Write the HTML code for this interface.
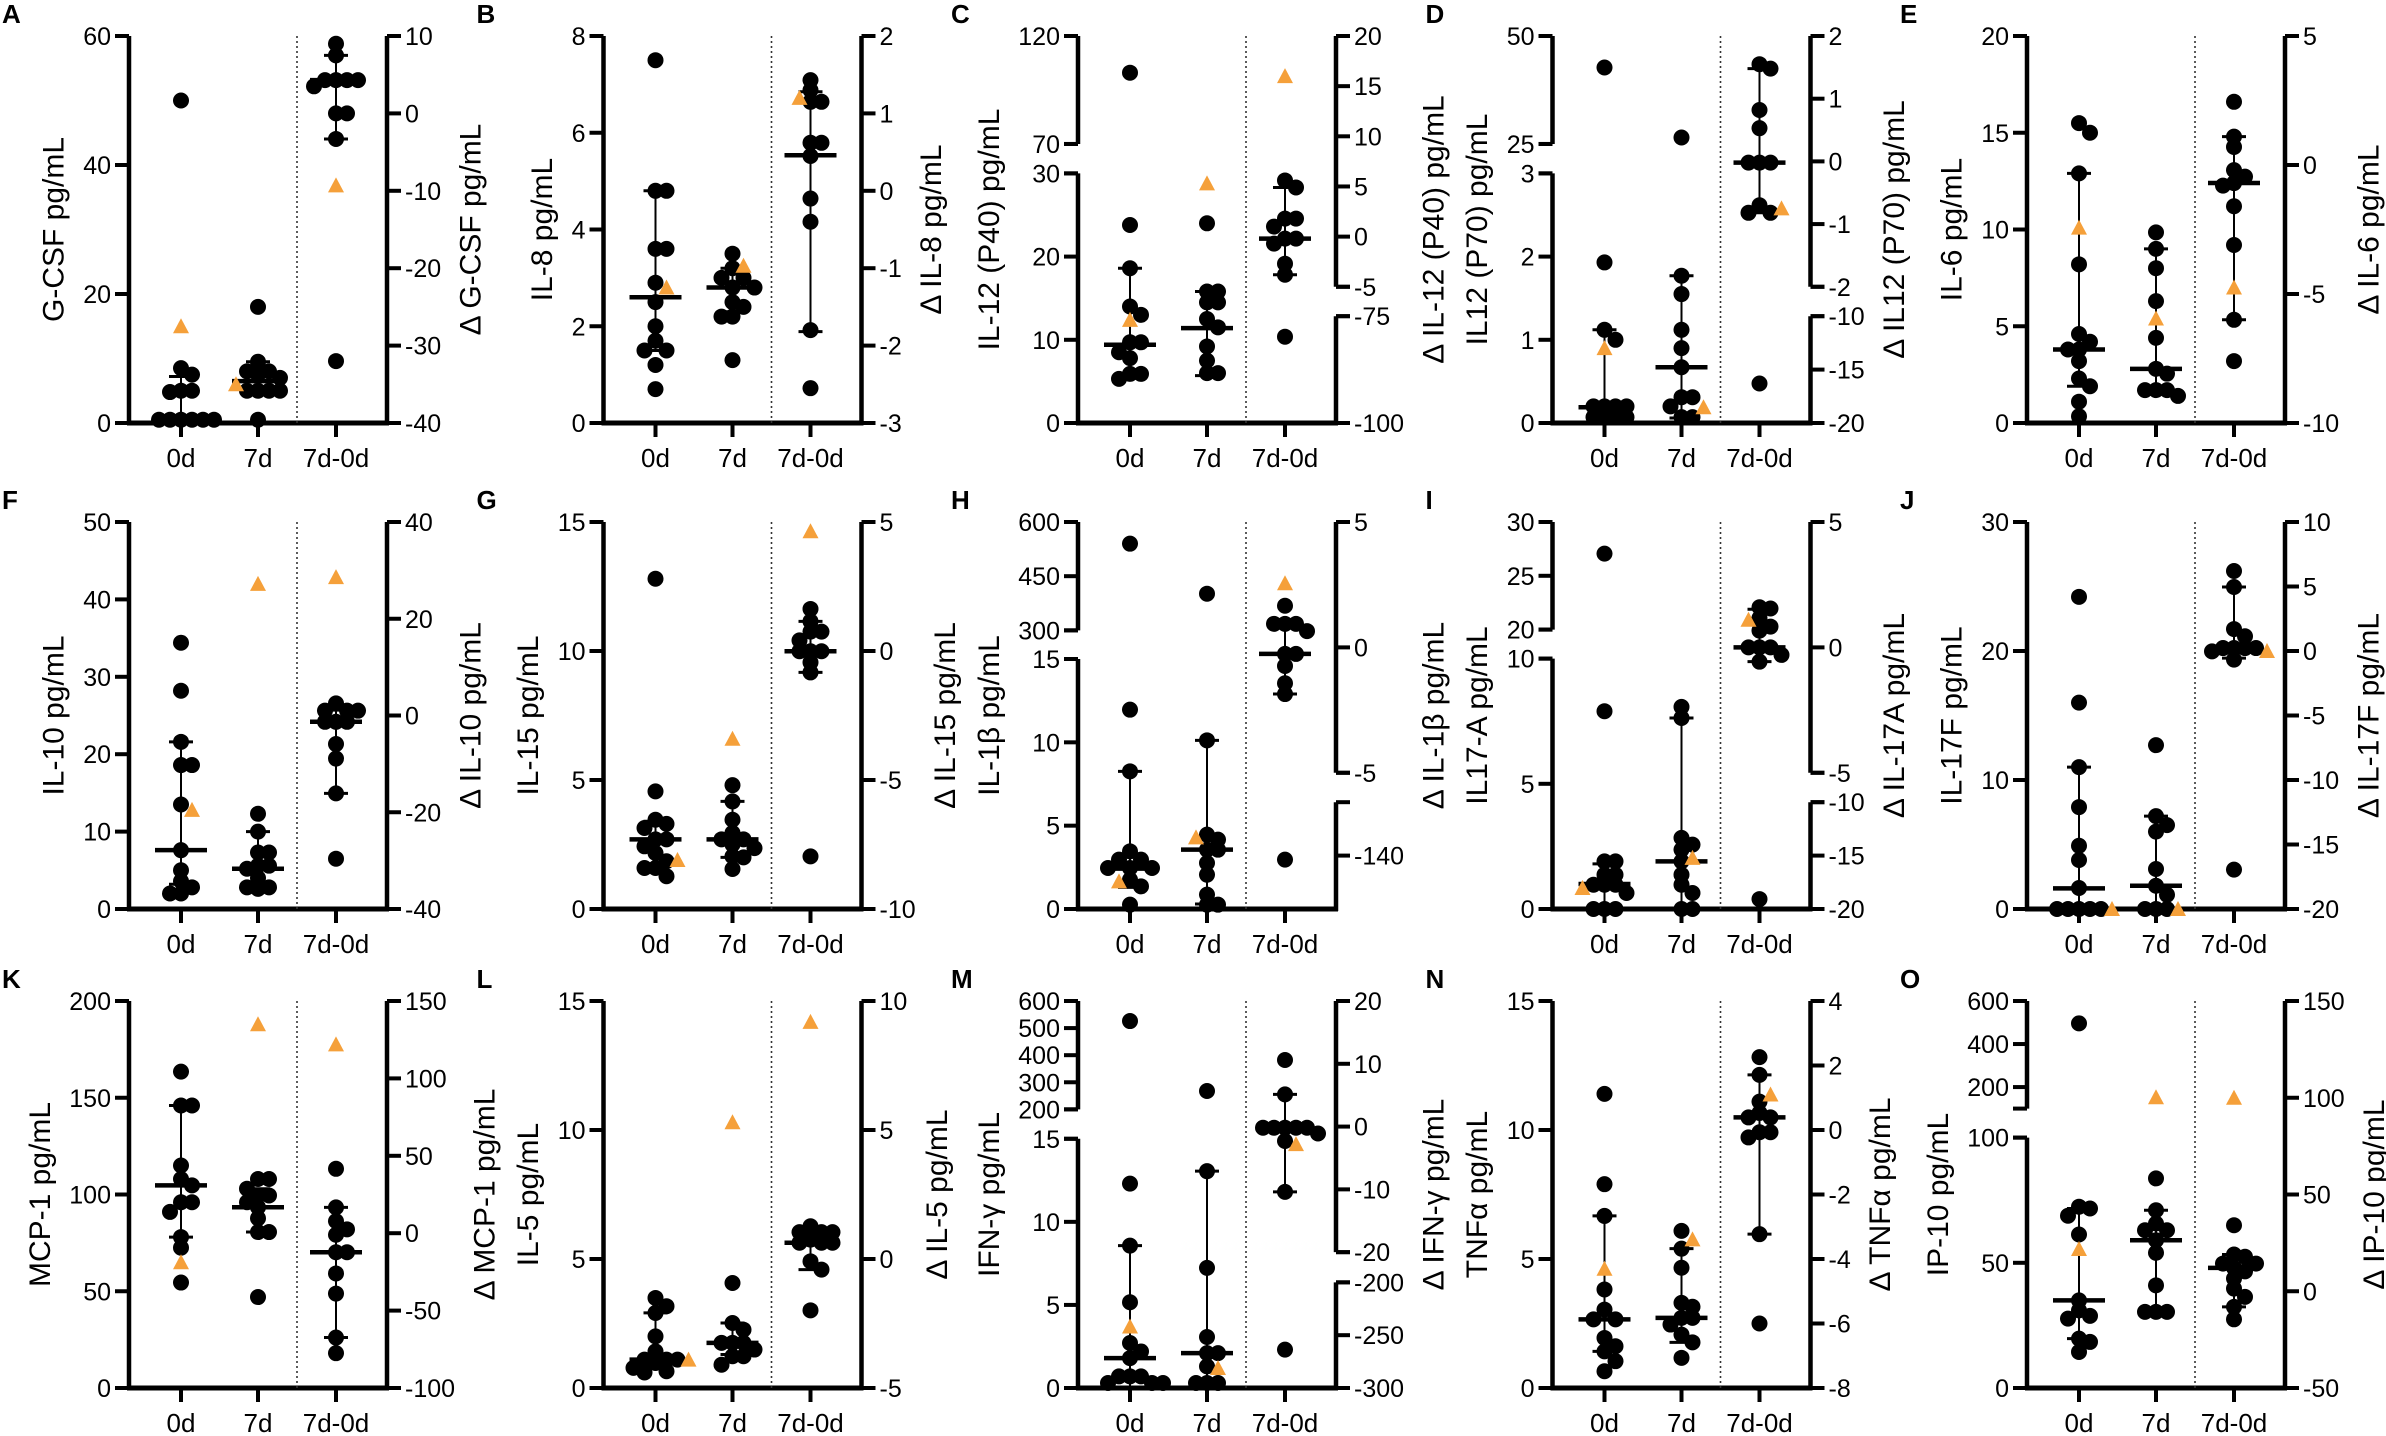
<!DOCTYPE html>
<html><head><meta charset="utf-8"><style>
html,body{margin:0;padding:0;background:#fff;}
svg{display:block;font-family:"Liberation Sans",Arial,sans-serif;}
</style></head><body>
<svg id="fig" xmlns="http://www.w3.org/2000/svg" width="2386" height="1436" viewBox="0 0 2386 1436"></svg>
<script>
// ---- data (per panel: 0d, 7d, 7d-0d values; triangles; median/hi/lo) ----
const cats = ["0d","7d","7d-0d"];
const A_0d=[50,8.5,7.5,5,5,4.8,0.5,0.5,0.5,0.5,0.5,0.5]; const A_7d=[18,9.5,8,8,7.5,7,5,5,5,5,0.5]; const A_diff=[9,7.5,4.3,4.3,4.3,4.3,3.5,0,0,-3.3,-32];
const A_tri=[15,6,-9.3]; const A_med=[0.5,6.5,4.3]; const A_hi=[7.2,9.5,7.5]; const A_lo=[0,5,-3.3];
const B_0d=[7.5,4.8,4.8,3.6,3.6,2.9,2.5,2.0,1.7,1.5,1.5,1.2,0.7]; const B_7d=[3.5,3.2,3.0,3.0,2.8,2.8,2.5,2.4,2.2,2.2,1.3]; const B_diff=[1.43,1.3,1.15,1.15,0.62,0.62,0.45,-0.1,-0.4,-1.8,-2.55];
const B_tri=[2.8,3.25,1.2]; const B_med=[2.6,2.8,0.46]; const B_hi=[4.8,3.2,1.28]; const B_lo=[1.5,2.3,-1.82];
const C_0d=[103,23.8,18.6,14,13,9.7,9.7,8.5,7.8,5.9,5.9,5.3]; const C_7d=[24,15.8,15.8,14.5,14.5,12.5,11.5,9.2,7.5,6.0,6.0]; const C_diff=[5.6,4.9,1.8,1.8,1.0,-0.2,-0.2,-0.7,-2.7,-3.8,-79.8];
const C_tri=[12.4,28.8,16]; const C_med=[9.4,11.4,-0.2]; const C_hi=[18.6,15.8,4.9]; const C_lo=[5.8,5.7,-3.8];
const D_0d=[42.7,1.93,1.12,1.0,0.2,0.2,0.2,0.2,0.07,0.07,0.07,0.07]; const D_7d=[26.5,1.77,1.55,1.12,0.9,0.67,0.31,0.31,0.2,0.07,0.07]; const D_diff=[1.55,1.48,0.82,0.53,-0.02,-0.02,-0.02,-0.7,-0.82,-0.82,-16.3];
const D_tri=[0.9,0.19,-0.75]; const D_med=[0.19,0.67,-0.02]; const D_hi=[1.12,1.77,1.48]; const D_lo=[0.05,0.06,-0.82];
const E_0d=[15.5,15,12.9,8.2,4.6,4.2,3.8,3.8,3.2,2.3,1.9,1.1,0.35]; const E_7d=[9.85,9.0,8.0,6.3,4.4,2.8,2.55,1.7,1.7,1.4,1.7]; const E_diff=[2.45,1.1,0.7,-0.2,-0.45,-0.7,-0.8,-1.6,-3.1,-6.0,-7.6];
const E_tri=[10.1,5.4,-4.75]; const E_med=[3.8,2.8,-0.7]; const E_hi=[12.9,9.0,1.1]; const E_lo=[1.9,1.5,-6.0];
const F_0d=[34.4,28.2,21.6,18.6,18.6,13.5,7.6,5,3.6,2.8,2,2]; const F_7d=[12.3,10,7.3,7.3,5.6,5.6,5.2,4,2.8,2.8,2.6]; const F_diff=[2.5,1.0,1.0,1.0,-1.3,-1.3,-1.3,-5.9,-8.9,-16.1,-29.6];
const F_tri=[12.8,42,28.6]; const F_med=[7.6,5.2,-1.3]; const F_hi=[21.6,10,1.1]; const F_lo=[3.2,2.9,-16.1];
const G_0d=[12.8,4.56,3.46,3.3,3.14,2.7,2.7,2.43,2.17,1.85,1.59,1.59,1.27]; const G_7d=[4.8,4.17,3.46,2.95,2.7,2.7,2.5,2.36,2.04,2.0,1.55]; const G_diff=[1.63,1.15,0.75,0.75,0.41,-0.01,-0.01,-0.01,-0.44,-0.83,-7.96];
const G_tri=[1.9,6.6,4.64]; const G_med=[2.7,2.7,-0.01]; const G_hi=[3.4,4.17,1.15]; const G_lo=[1.6,2.0,-0.83];
const H_0d=[540,11.96,8.26,3.46,2.96,2.96,2.46,2.46,2.46,1.76,1.36,0.26]; const H_7d=[401.5,10.12,4.46,4.16,3.56,3.56,2.76,2.06,0.86,0.26,0.26]; const H_diff=[1.66,0.94,0.94,0.94,0.65,-0.26,-0.26,-0.74,-1.43,-1.86,-141.5];
const H_tri=[1.66,4.3,2.56]; const H_med=[2.42,3.56,-0.26]; const H_hi=[8.26,10.12,0.94]; const H_lo=[1.3,0.3,-1.86];
const I_0d=[27.06,7.9,1.9,1.9,1.37,1.37,0.97,0.97,0.97,0.64,0,0,0]; const I_7d=[8.07,7.63,2.84,2.57,2.37,1.9,1.37,0.97,0.64,0,0]; const I_diff=[1.6,1.55,1.17,0.83,0.67,0,0,0,-0.3,-0.57,-19.07];
const I_tri=[0.84,2.04,1.1]; const I_med=[1.0,1.9,0]; const I_hi=[1.8,7.63,1.52]; const I_lo=[0,0,-0.57];
const J_0d=[24.2,16,11,7.9,4.9,3.8,1.63,0,0,0,0,0]; const J_7d=[12.7,7.2,6.5,6.0,3.1,1.8,1.1,0,0,0]; const J_diff=[6.2,4.96,1.7,1.14,0.23,0.23,0.23,0.23,-0.03,-0.67,-16.95];
const J_tri=[0,0,0]; const J_med=[1.6,1.8,0.23]; const J_hi=[11,7.2,4.96]; const J_lo=[0,0,-0.55];
const K_0d=[163.5,146,146,115,108,104.7,96,96,91,78,72.5,54.5]; const K_7d=[108,108,103,99.5,99.5,96,93.4,87.7,80.6,80.6,47]; const K_diff=[41.6,16.7,7.8,2.5,-1,-12.3,-12.3,-26,-39,-67.4,-77.5];
const K_tri=[65,188,122]; const K_med=[104.7,93.4,-12.3]; const K_hi=[146,103,16.7]; const K_lo=[78,80.6,-67.4];
const L_0d=[3.49,3.17,2.91,2.0,1.42,1.1,1.1,1.1,0.97,0.78,0.65,0.6]; const L_7d=[4.07,2.52,2.26,1.75,1.75,1.75,1.49,1.23,1.23,0.9]; const L_diff=[1.27,1.04,1.04,1.04,0.75,0.63,0.63,0.63,-0.09,-0.41,-1.99];
const L_tri=[1.1,10.3,9.19]; const L_med=[1.1,1.75,0.63]; const L_hi=[2.91,2.52,1.04]; const L_lo=[0.85,1.3,-0.41];
const M_0d=[526,12.3,8.57,5.16,2.71,2.2,1.8,0.7,0.7,0.7,0.3,0.3,0.3]; const M_7d=[267.7,13.05,7.23,3.07,2.1,2.1,1.3,0.3,0.3,0.3]; const M_diff=[10.6,5.13,-0.19,-0.19,-0.19,-0.19,-0.19,-1.1,-2.3,-10.4,-263.7];
const M_tri=[3.7,1.2,-2.8]; const M_med=[1.8,2.1,-0.19]; const M_hi=[8.57,13.05,5.13]; const M_lo=[0,0,-10.4];
const N_0d=[11.4,7.9,6.67,3.82,3.04,2.66,2.66,1.94,1.62,1.42,1.04,0.65]; const N_7d=[6.09,5.4,4.66,3.3,3.15,2.72,2.72,2.46,2.07,1.77,1.17]; const N_diff=[2.26,1.71,0.88,0.53,0.39,0.39,-0.07,-0.07,-0.23,-3.23,-6.0];
const N_tri=[4.62,5.76,1.1]; const N_med=[2.66,2.72,0.39]; const N_hi=[6.67,5.4,1.71]; const N_lo=[1.42,1.77,-3.23];
const O_0d=[496,72.4,71.7,68.8,61.3,35,31,28.8,27.7,19.7,18.4,14.4]; const O_7d=[83.7,71,65.7,63,63,59,54,41,30.4,30.4,30.4]; const O_diff=[34.1,19,17.8,14.3,14.3,12.1,10.3,6.6,1.4,-2.9,-8.1,-14.5];
const O_tri=[55.5,152.8,100]; const O_med=[35,59,12.1]; const O_hi=[71.7,71,19]; const O_lo=[19.7,30.4,-8.1];

// ---- axis definitions: segments [vmin,vmax,fracBottom,fracTop] and tick labels ----
const lin=(a,b)=>[[a,b,0,1]];
const panels=[
 {id:"A",L:lin(0,60),Lt:[0,20,40,60],R:lin(-40,10),Rt:[-40,-30,-20,-10,0,10],lt:"G-CSF pg/mL",rt:"Δ G-CSF pg/mL",d:[A_0d,A_7d,A_diff],tri:A_tri,med:A_med,hi:A_hi,lo:A_lo},
 {id:"B",L:lin(0,8),Lt:[0,2,4,6,8],R:lin(-3,2),Rt:[-3,-2,-1,0,1,2],lt:"IL-8 pg/mL",rt:"Δ IL-8 pg/mL",d:[B_0d,B_7d,B_diff],tri:B_tri,med:B_med,hi:B_hi,lo:B_lo},
 {id:"C",L:[[0,30,0,0.645],[70,120,0.721,1]],Lt:[0,10,20,30,70,120],R:[[-100,-75,0,0.276],[-5,20,0.352,1]],Rt:[-100,-75,-5,0,5,10,15,20],lt:"IL-12 (P40) pg/mL",rt:"Δ IL-12 (P40) pg/mL",d:[C_0d,C_7d,C_diff],tri:C_tri,med:C_med,hi:C_hi,lo:C_lo},
 {id:"D",L:[[0,3,0,0.645],[25,50,0.721,1]],Lt:[0,1,2,3,25,50],R:[[-20,-10,0,0.276],[-2,2,0.352,1]],Rt:[-20,-15,-10,-2,-1,0,1,2],lt:"IL12 (P70) pg/mL",rt:"Δ IL12 (P70) pg/mL",d:[D_0d,D_7d,D_diff],tri:D_tri,med:D_med,hi:D_hi,lo:D_lo},
 {id:"E",L:lin(0,20),Lt:[0,5,10,15,20],R:lin(-10,5),Rt:[-10,-5,0,5],lt:"IL-6 pg/mL",rt:"Δ IL-6 pg/mL",d:[E_0d,E_7d,E_diff],tri:E_tri,med:E_med,hi:E_hi,lo:E_lo},
 {id:"F",L:lin(0,50),Lt:[0,10,20,30,40,50],R:lin(-40,40),Rt:[-40,-20,0,20,40],lt:"IL-10 pg/mL",rt:"Δ IL-10 pg/mL",d:[F_0d,F_7d,F_diff],tri:F_tri,med:F_med,hi:F_hi,lo:F_lo},
 {id:"G",L:lin(0,15),Lt:[0,5,10,15],R:lin(-10,5),Rt:[-10,-5,0,5],lt:"IL-15 pg/mL",rt:"Δ IL-15 pg/mL",d:[G_0d,G_7d,G_diff],tri:G_tri,med:G_med,hi:G_hi,lo:G_lo},
 {id:"H",L:[[0,15,0,0.646],[300,600,0.72,1]],Lt:[0,5,10,15,300,450,600],R:[[-160,-120,0,0.276],[-5,5,0.352,1]],Rt:[-140,-5,0,5],lt:"IL-1β pg/mL",rt:"Δ IL-1β pg/mL",d:[H_0d,H_7d,H_diff],tri:H_tri,med:H_med,hi:H_hi,lo:H_lo},
 {id:"I",L:[[0,10,0,0.647],[20,30,0.722,1]],Lt:[0,5,10,20,25,30],R:[[-20,-10,0,0.276],[-5,5,0.352,1]],Rt:[-20,-15,-10,-5,0,5],lt:"IL17-A pg/mL",rt:"Δ IL-17A pg/mL",d:[I_0d,I_7d,I_diff],tri:I_tri,med:I_med,hi:I_hi,lo:I_lo},
 {id:"J",L:lin(0,30),Lt:[0,10,20,30],R:lin(-20,10),Rt:[-20,-15,-10,-5,0,5,10],lt:"IL-17F pg/mL",rt:"Δ IL-17F pg/mL",d:[J_0d,J_7d,J_diff],tri:J_tri,med:J_med,hi:J_hi,lo:J_lo},
 {id:"K",L:lin(0,200),Lt:[0,50,100,150,200],R:lin(-100,150),Rt:[-100,-50,0,50,100,150],lt:"MCP-1 pg/mL",rt:"Δ MCP-1 pg/mL",d:[K_0d,K_7d,K_diff],tri:K_tri,med:K_med,hi:K_hi,lo:K_lo},
 {id:"L",L:lin(0,15),Lt:[0,5,10,15],R:lin(-5,10),Rt:[-5,0,5,10],lt:"IL-5 pg/mL",rt:"Δ IL-5 pg/mL",d:[L_0d,L_7d,L_diff],tri:L_tri,med:L_med,hi:L_hi,lo:L_lo},
 {id:"M",L:[[0,15,0,0.644],[200,600,0.72,1]],Lt:[0,5,10,15,200,300,400,500,600],R:[[-300,-200,0,0.273],[-20,20,0.351,1]],Rt:[-300,-250,-200,-20,-10,0,10,20],lt:"IFN-γ pg/mL",rt:"Δ IFN-γ pg/mL",d:[M_0d,M_7d,M_diff],tri:M_tri,med:M_med,hi:M_hi,lo:M_lo},
 {id:"N",L:lin(0,15),Lt:[0,5,10,15],R:lin(-8,4),Rt:[-8,-6,-4,-2,0,2,4],lt:"TNFα pg/mL",rt:"Δ TNFα pg/mL",d:[N_0d,N_7d,N_diff],tri:N_tri,med:N_med,hi:N_hi,lo:N_lo},
 {id:"O",L:[[0,100,0,0.647],[100,600,0.722,1]],Lt:[0,50,100,200,400,600],R:lin(-50,150),Rt:[-50,0,50,100,150],lt:"IP-10 pg/mL",rt:"Δ IP-10 pg/mL",d:[O_0d,O_7d,O_diff],tri:O_tri,med:O_med,hi:O_hi,lo:O_lo}
];

// ---- layout ----
const COL0=129, COLP=474.5, ROWTOP=[36,522,1001], AH=387, RW=258;
const CATOFF=[52,129,207], DOTOFF=168, TICK=14, FS=25, R=8, ORANGE="#F5A03A";
const NS="http://www.w3.org/2000/svg";
const svg=document.getElementById("fig");
function mk(parent,tag,attrs,text){const e=document.createElementNS(NS,tag);for(const k in attrs)e.setAttribute(k,attrs[k]);if(text!==undefined)e.textContent=text;parent.appendChild(e);return e;}
function segFor(segs,v){let best=segs[0],bd=1e9;for(const s of segs){const d=v<s[0]?s[0]-v:(v>s[1]?v-s[1]:0);if(d<bd){bd=d;best=s;}}return best;}
function yOf(segs,v,bottom){const s=segFor(segs,v);return bottom-(s[2]+(v-s[0])/(s[1]-s[0])*(s[3]-s[2]))*AH;}
function tw(str){let w=0;for(const c of String(str))w+=(c==="-"?0.333:0.556);return w*FS;}
function fmt(v){return String(v);}

panels.forEach((p,i)=>{
  const col=i%5,row=Math.floor(i/5);
  const ax=COL0+COLP*col, top=ROWTOP[row], bot=top+AH, rx=ax+RW;
  const g=mk(svg,"g",{});
  
  
  const lab=mk(g,"text",{x:ax-127,y:top-13,"font-size":26,"font-weight":"bold",fill:"#000"},p.id);
  
  
  function drawAxis(segs,ticks,x,side,nm){
    const ag=mk(g,"g",{});
    
    
    let maxw=0;
    segs.forEach(s=>{
      const y0=bot-s[2]*AH,y1=bot-s[3]*AH;
      const ln=mk(ag,"line",{x1:x,x2:x,y1:y0+(s[2]===0?2:0),y2:y1,stroke:"#000","stroke-width":4.5});
      
      
      [y0,y1].forEach(yy=>{ if(yy<bot-1){const t=mk(ag,"line",{x1:x,x2:x+side*TICK,y1:yy,y2:yy,stroke:"#000","stroke-width":4});
        
        }});
    });
    ticks.forEach(v=>{
      const yy=yOf(segs,v,bot);
      const t=mk(ag,"line",{x1:x,x2:x+side*TICK,y1:yy,y2:yy,stroke:"#000","stroke-width":4});
      
      
      const tx=mk(ag,"text",{x:x+side*(TICK+4),y:yy+9,"font-size":FS,"text-anchor":side<0?"end":"start",fill:"#000"},fmt(v));
      
      
      maxw=Math.max(maxw,tw(v));
    });
    return maxw;
  }
  const lw=drawAxis(p.L,p.Lt,ax,-1,'left-y-axis');
  const rw=drawAxis(p.R,p.Rt,rx,1,'right-y-axis');
  const xl=mk(g,"line",{x1:ax-2,x2:rx+2,y1:bot,y2:bot,stroke:"#000","stroke-width":5});
  
  
  const dl=mk(g,"line",{x1:ax+DOTOFF,x2:ax+DOTOFF,y1:top,y2:bot,stroke:"#333","stroke-width":1.6,"stroke-dasharray":"2,3"});
  
  
  cats.forEach((c,k)=>{
    const cx=ax+CATOFF[k];
    const t=mk(g,"line",{x1:cx,x2:cx,y1:bot,y2:bot+TICK,stroke:"#000","stroke-width":4});
    
    
    const tx=mk(g,"text",{x:cx,y:bot+44,"font-size":26,"text-anchor":"middle",fill:"#000"},c);
    
    
  });
  const lx=ax-TICK-4-lw-29, rxx=rx+TICK+4+rw+30, cy=(top+bot)/2;
  const lt=mk(g,"text",{x:lx,y:cy,"font-size":30,"text-anchor":"middle","dominant-baseline":"central",transform:`rotate(-90 ${lx} ${cy})`,fill:"#000"},p.lt);
  
  
  const rt=mk(g,"text",{x:rxx,y:cy,"font-size":30,"text-anchor":"middle","dominant-baseline":"central",transform:`rotate(-90 ${rxx} ${cy})`,fill:"#000"},p.rt);
  
  
  for(let k=0;k<3;k++){
    const segs=k<2?p.L:p.R, cx=ax+CATOFF[k];
    const sg=mk(g,"g",{});
    
    
    const yh=yOf(segs,p.hi[k],bot), yl=yOf(segs,p.lo[k],bot), ym=yOf(segs,p.med[k],bot);
    const wl=mk(sg,"line",{x1:cx,x2:cx,y1:yh,y2:yl,stroke:"#000","stroke-width":2});
    
    
    [yh,yl].forEach(yy=>{const c=mk(sg,"line",{x1:cx-12,x2:cx+12,y1:yy,y2:yy,stroke:"#000","stroke-width":3});
      
      });
    const ml=mk(sg,"line",{x1:cx-26,x2:cx+26,y1:ym,y2:ym,stroke:"#000","stroke-width":4.5});
    
    
    const placed=[];
    function place(y){
      const offs=[0,1,-1,2,-2,3,-3];
      for(const o of offs){const x=cx+o*11; if(placed.every(q=>Math.hypot(q[0]-x,q[1]-y)>=10)){placed.push([x,y]);return x;}}
      placed.push([cx,y]);return cx;
    }
    const vals=p.d[k].slice().sort((a,b)=>b-a);
    vals.forEach(v=>{
      const y=yOf(segs,v,bot), x=place(y);
      const c=mk(sg,"circle",{cx:x,cy:y,r:R,fill:"#000"});
      
      
    });
    const ty=yOf(segs,p.tri[k],bot), tx=place(ty);
    const tr=mk(sg,"polygon",{points:`${tx},${ty-8} ${tx+8},${ty+7} ${tx-8},${ty+7}`,fill:ORANGE});
    
    
  }
});
</script>
</body></html>
